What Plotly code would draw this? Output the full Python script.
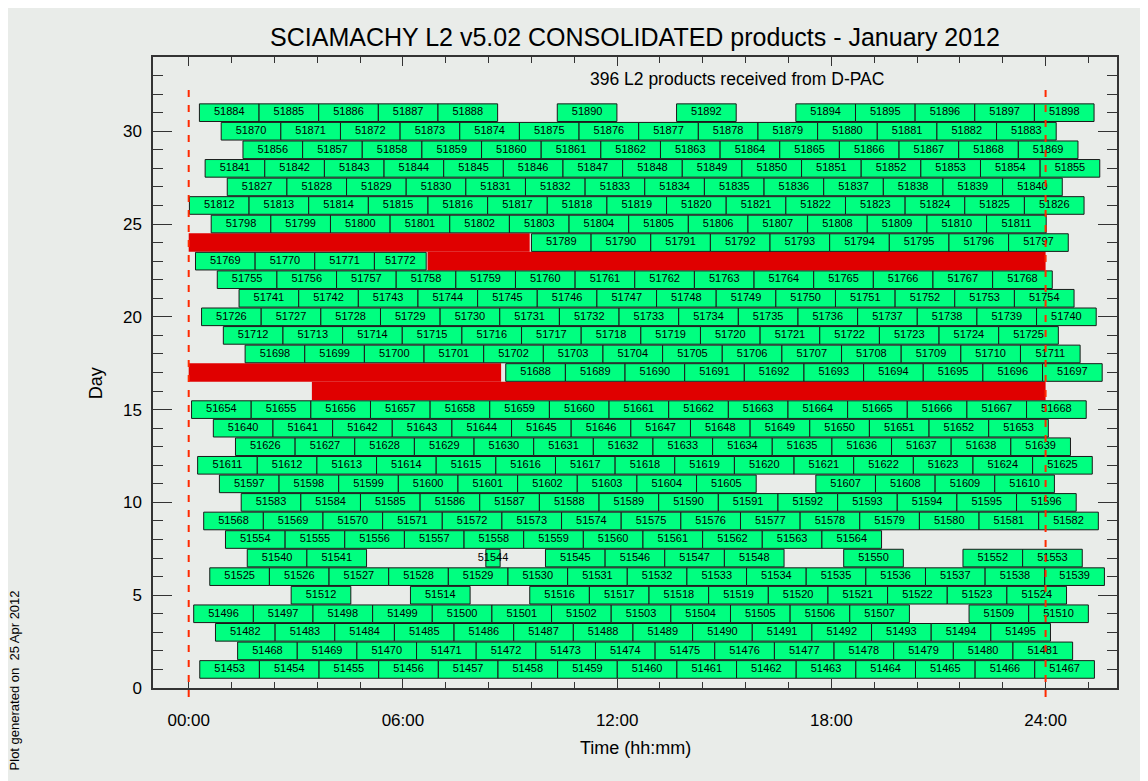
import plotly.graph_objects as go

# ---------------- data ----------------
ORBIT_PERIOD_H = 1.6705  # width of one orbit box in hours

ROW_DAY = [1, 2, 3, 4, 5, 6, 7, 8, 9, 10, 11, 12, 13, 14, 15,
           17, 18, 19, 20, 21, 22, 23, 24, 25, 26, 27, 28, 29, 30, 31]
ROW_FIRST_ORBIT = [51453, 51468, 51482, 51496, 51512, 51525, 51540, 51554, 51568, 51583,
                   51597, 51611, 51626, 51640, 51654, 51688, 51698, 51712, 51726, 51741,
                   51755, 51769, 51789, 51798, 51812, 51827, 51841, 51856, 51870, 51884]
ROW_LAST_ORBIT = [51467, 51481, 51495, 51510, 51524, 51539, 51553, 51564, 51582, 51596,
                  51610, 51625, 51639, 51653, 51668, 51697, 51711, 51725, 51740, 51754,
                  51768, 51772, 51797, 51811, 51826, 51840, 51855, 51869, 51883, 51898]
ROW_FIRST_START_H = [0.31, 1.37, 0.75, 0.14, 2.87, 0.59, 1.64, 1.03, 0.42, 1.47,
                     0.86, 0.25, 1.31, 0.69, 0.08, 8.88, 1.58, 0.97, 0.36, 1.41,
                     0.80, 0.19, 9.60, 0.63, 0.02, 1.08, 0.46, 1.52, 0.91, 0.30]
MISSING_ORBITS = [51508, 51513, 51515, 51542, 51543, 51549, 51551, 51606,
                  51889, 51891, 51893]
PARTIAL_ORBITS = [51544, 51772]
PARTIAL_DURATION_H = [0.40, 1.45]

GAP_DAY = [16, 17, 23, 24]
GAP_START_H = [3.45, 0.00, 6.69, 0.00]
GAP_END_H = [24.00, 8.75, 24.00, 9.55]

X_TICK_VALS = [0, 6, 12, 18, 24]
X_TICK_TEXT = ["00:00", "06:00", "12:00", "18:00", "24:00"]

TITLE = "SCIAMACHY L2 v5.02 CONSOLIDATED products - January 2012"
SUBTITLE = "396 L2 products received from D-PAC"
FOOTNOTE = "Plot generated on\u00a0\u00a025 Apr 2012"

# ---------------- build boxes ----------------
partial = dict(zip(PARTIAL_ORBITS, PARTIAL_DURATION_H))
missing = set(MISSING_ORBITS)
box_day, box_start, box_dur, box_label = [], [], [], []
for day, first, last, s0 in zip(ROW_DAY, ROW_FIRST_ORBIT, ROW_LAST_ORBIT, ROW_FIRST_START_H):
    for orb in range(first, last + 1):
        if orb in missing:
            continue
        st = s0 + (orb - first) * ORBIT_PERIOD_H
        box_day.append(day)
        box_start.append(st)
        box_dur.append(partial.get(orb, ORBIT_PERIOD_H))
        box_label.append(str(orb))

FONT = "Liberation Sans, Arial, Helvetica, sans-serif"
BG = "#e9ece9"

# the page body adds an 8 px offset; the figure is sized to compensate
W, H = 1140, 773

fig = go.Figure()

# red gaps
fig.add_trace(go.Bar(
    orientation="h",
    y=GAP_DAY,
    x=[e - s for s, e in zip(GAP_START_H, GAP_END_H)],
    base=GAP_START_H,
    width=1.0,
    marker=dict(color="#e00000", line=dict(width=0)),
    hoverinfo="skip",
    showlegend=False,
))

# orbit boxes
fig.add_trace(go.Bar(
    orientation="h",
    y=box_day,
    x=box_dur,
    base=box_start,
    width=0.95,
    marker=dict(color="#00ff80", line=dict(color="#1a1a1a", width=1)),
    hoverinfo="skip",
    showlegend=False,
))

# orbit labels
fig.add_trace(go.Scatter(
    mode="text",
    x=[s + d / 2 for s, d in zip(box_start, box_dur)],
    y=box_day,
    text=box_label,
    textposition="middle center",
    textfont=dict(family=FONT, size=11, color="black"),
    cliponaxis=False,
    hoverinfo="skip",
    showlegend=False,
))

# red dashed lines at 00:00 and 24:00
for xv in (0, 24):
    fig.add_shape(type="line", xref="x", yref="paper", x0=xv, x1=xv,
                  y0=-0.0143, y1=0.951,
                  line=dict(color="#ff2a00", width=2, dash="7px,8px"), layer="above")

axis_common = dict(
    showgrid=False, zeroline=False, showline=True, linecolor="#333333", linewidth=1.5,
    mirror="allticks", ticks="inside", tickcolor="#333333",
    tickfont=dict(family=FONT, size=17, color="black"),
)

fig.update_layout(
    width=W, height=H,
    paper_bgcolor=BG, plot_bgcolor=BG,
    margin=dict(l=145, r=31, t=49, b=93),
    barmode="overlay",
    title=dict(text=TITLE, x=0.5, xref="paper", xanchor="center",
               y=1 - 29 / H, yanchor="middle",
               font=dict(family=FONT, size=25, color="black")),
    xaxis=dict(range=[-1, 26], tickmode="array", tickvals=X_TICK_VALS, ticktext=X_TICK_TEXT,
               ticklen=9, ticklabelstandoff=16,
               minor=dict(tickmode="linear", tick0=0, dtick=1.2, ticks="inside",
                          ticklen=6, tickcolor="#333333"),
               **axis_common),
    yaxis=dict(range=[0, 34], tickmode="linear", tick0=0, dtick=5, ticklen=19,
               ticklabelstandoff=6,
               minor=dict(tickmode="linear", tick0=0, dtick=1, ticks="inside",
                          ticklen=10, tickcolor="#333333"),
               **axis_common),
    annotations=[
        dict(text=SUBTITLE, xref="paper", yref="paper", x=0.6057, y=0.965,
             xanchor="center", yanchor="middle", showarrow=False,
             font=dict(family=FONT, size=17.5, color="black")),
        dict(text="Time (hh:mm)", xref="paper", yref="paper", x=0.5, y=-0.0951,
             xanchor="center", yanchor="middle", showarrow=False,
             font=dict(family=FONT, size=18, color="black")),
        dict(text="Day", xref="paper", yref="paper", x=-0.0588, y=0.4834,
             xanchor="center", yanchor="middle", showarrow=False, textangle=-90,
             font=dict(family=FONT, size=18, color="black")),
        dict(text=FOOTNOTE, xref="paper", yref="paper", x=-0.1427, y=0.0127,
             xanchor="center", yanchor="middle", showarrow=False, textangle=-90,
             font=dict(family=FONT, size=13, color="black")),
    ],
)

fig.write_html("out.html")
